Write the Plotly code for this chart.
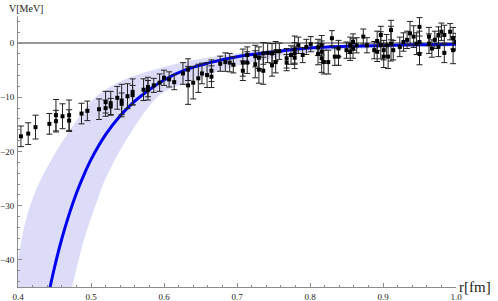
import plotly.graph_objects as go

# ---- data

# lattice points: r [fm], V [MeV], error [MeV]
r_data = [0.404, 0.414, 0.424, 0.443, 0.452, 0.452, 0.461, 0.470, 0.470, 0.487,
          0.495, 0.511, 0.520, 0.520, 0.527, 0.527, 0.536, 0.542, 0.542, 0.550,
          0.557, 0.557, 0.572, 0.578, 0.578, 0.586, 0.594, 0.600, 0.607, 0.614,
          0.626, 0.633, 0.633, 0.640, 0.647, 0.652, 0.659, 0.665, 0.665, 0.677,
          0.684, 0.690, 0.695, 0.708, 0.708, 0.714, 0.714, 0.725, 0.725, 0.730,
          0.730, 0.736, 0.736, 0.742, 0.748, 0.748, 0.753, 0.753, 0.758, 0.768,
          0.768, 0.774, 0.779, 0.779, 0.779, 0.784, 0.790, 0.795, 0.801, 0.811,
          0.811, 0.816, 0.816, 0.816, 0.819, 0.825, 0.830, 0.834, 0.839, 0.839,
          0.850, 0.855, 0.855, 0.859, 0.859, 0.864, 0.873, 0.878, 0.888, 0.892,
          0.892, 0.897, 0.897, 0.901, 0.901, 0.905, 0.907, 0.911, 0.911, 0.914,
          0.923, 0.928, 0.933, 0.937, 0.942, 0.946, 0.950, 0.950, 0.950, 0.963,
          0.963, 0.967, 0.971, 0.976, 0.976, 0.980, 0.984, 0.984, 0.992, 0.996,
          0.996, 1.000]
v_data = [-17.2, -16.7, -15.5, -14.9, -13.3, -14.4, -13.5, -13.3, -14.3, -13.0,
          -12.5, -12.2, -10.9, -12.0, -11.1, -11.7, -10.1, -10.6, -11.2, -9.8,
          -9.0, -9.6, -8.6, -8.7, -8.1, -7.8, -7.3, -6.4, -6.7, -7.2,
          -5.6, -4.9, -7.8, -7.3, -6.5, -5.6, -5.9, -5.1, -6.2, -3.8,
          -3.5, -3.6, -4.0, -3.6, -5.1, -2.2, -3.6, -2.4, -3.9, -2.7,
          -4.9, -1.9, -5.1, -1.8, -1.9, -4.1, -1.5, -3.5, -1.5, -2.8,
          -3.6, -2.2, -1.2, -1.9, -2.7, -0.4, -2.2, -0.7, -0.2, -2.0,
          -0.8, -0.4, -1.6, -2.8, -3.5, -3.5, 0.9, -2.5, -2.5, -1.0,
          -1.3, -0.4, -1.6, 0.2, -1.0, -0.4, 1.2, -0.4, -1.3, 0.4,
          -1.6, 1.5, -0.4, -1.3, -2.5, -0.4, -2.5, 2.4, -0.1, -1.3,
          -0.7, 0.2, 0.6, 1.8, 1.2, -0.1, 3.0, 0.2, -2.0, 1.2,
          -0.1, -1.0, 0.6, 1.5, -0.7, 2.1, 1.5, -1.8, 2.1, 0.9,
          -1.3, 0.2]
v_err = [1.9, 2.0, 2.2, 1.9, 2.9, 2.0, 2.3, 2.8, 2.0, 1.9,
         1.8, 1.9, 2.0, 1.5, 2.2, 1.5, 2.1, 3.0, 2.0, 2.3,
         2.4, 1.8, 2.0, 1.8, 1.8, 1.3, 1.6, 1.4, 1.4, 1.4,
         2.0, 2.0, 3.5, 3.0, 2.6, 1.9, 2.3, 2.0, 2.0, 1.4,
         1.7, 1.7, 1.5, 2.5, 1.8, 1.5, 2.0, 2.0, 2.5, 2.0,
         2.5, 2.0, 2.5, 1.8, 1.8, 2.0, 1.8, 2.0, 1.5, 1.8,
         1.5, 1.7, 2.5, 2.0, 2.0, 1.5, 1.4, 1.4, 1.4, 2.0,
         1.5, 1.8, 2.0, 2.6, 2.2, 2.2, 1.4, 1.6, 1.6, 1.5,
         1.5, 1.5, 1.6, 1.5, 1.8, 1.4, 1.4, 1.4, 1.6, 1.8,
         1.8, 1.6, 2.5, 1.8, 2.0, 2.0, 2.2, 1.8, 3.2, 1.8,
         1.8, 1.7, 1.6, 2.2, 2.0, 2.0, 1.7, 2.0, 2.0, 1.7,
         1.8, 1.6, 1.6, 1.5, 1.8, 1.6, 1.8, 1.8, 1.5, 2.0,
         2.5, 1.6]

# fitted potential (blue line)
r_fit = [0.444, 0.45, 0.46, 0.47, 0.48, 0.49, 0.50, 0.52, 0.54, 0.56, 0.58,
         0.60, 0.63, 0.66, 0.70, 0.75, 0.80, 0.85, 0.90, 0.95, 1.00]
v_fit = [-45.0, -41.4, -36.1, -31.6, -27.7, -24.4, -21.5, -16.9, -13.4, -10.7, -8.6,
         -6.8, -4.9, -3.7, -2.5, -1.6, -0.9, -0.6, -0.45, -0.3, -0.2]

# error band around the fit
r_band_up = [0.40, 0.41, 0.425, 0.45, 0.47, 0.50, 0.52, 0.55, 0.60, 0.65, 0.70, 0.80, 0.90, 1.00]
v_band_up = [-40.0, -33.0, -27.0, -20.5, -16.3, -10.8, -8.6, -6.5, -4.4, -2.9, -1.9, -0.8, -0.4, -0.15]
r_band_lo = [0.40, 0.44, 0.474, 0.49, 0.51, 0.52, 0.55, 0.595, 0.63, 0.66, 0.70, 0.75, 0.80, 0.90, 1.00]
v_band_lo = [-95.0, -62.0, -45.0, -36.5, -28.5, -25.0, -17.5, -9.5, -7.4, -5.9, -4.2, -2.8, -1.7, -0.8, -0.4]

axis_grey = "#8c8c8c"
serif = "Liberation Serif"

fig = go.Figure()

# band as closed polygon
fig.add_trace(go.Scatter(
    x=r_band_up + r_band_lo[::-1],
    y=v_band_up + v_band_lo[::-1],
    fill="toself", fillcolor="#dcdcf9", line=dict(width=0),
    mode="lines", line_shape="spline", hoverinfo="skip", showlegend=False))

fig.add_trace(go.Scatter(
    x=r_fit, y=v_fit, mode="lines", line_shape="spline",
    line=dict(color="#0000f0", width=3), showlegend=False))

fig.add_trace(go.Scatter(
    x=r_data, y=v_data, mode="markers",
    marker=dict(color="black", size=4, symbol="square"),
    error_y=dict(type="data", array=v_err, color="#222222", thickness=1, width=3),
    showlegend=False))

fig.update_layout(
    width=498, height=301,
    margin=dict(l=18, r=42, t=16, b=14),
    plot_bgcolor="white", paper_bgcolor="white",
    font=dict(family=serif, size=9, color="#222"),
    annotations=[
        dict(text="V[MeV]", xref="paper", yref="paper", x=0.018, y=1,
             xanchor="center", yanchor="bottom", showarrow=False,
             font=dict(family=serif, size=10, color="#222")),
        dict(text="r[fm]", xref="paper", yref="paper", x=1, y=0, xshift=1,
             xanchor="left", yanchor="middle", showarrow=False,
             font=dict(family=serif, size=15, color="#222")),
    ],
)

fig.update_xaxes(
    range=[0.4, 1.0], showgrid=False, zeroline=False, automargin=False,
    showline=True, linecolor=axis_grey, linewidth=1,
    tickvals=[0.4, 0.5, 0.6, 0.7, 0.8, 0.9, 1.0], ticktext=["0.4", "0.5", "0.6", "0.7", "0.8", "0.9", "1.0"],
    ticks="inside", ticklen=4, tickcolor=axis_grey,
    minor=dict(dtick=0.02, tick0=0.4, ticks="inside", ticklen=2, tickcolor=axis_grey),
    ticklabelstandoff=1,
)
fig.update_yaxes(
    range=[-45, 5], showgrid=False, automargin=False,
    zeroline=True, zerolinecolor="#999999", zerolinewidth=1.5,
    showline=True, linecolor=axis_grey, linewidth=1,
    tickvals=[-40, -30, -20, -10, 0],
    ticks="inside", ticklen=4, tickcolor=axis_grey,
    minor=dict(dtick=2, tick0=0, ticks="inside", ticklen=2, tickcolor=axis_grey),
    ticklabelstandoff=1,
)

# the page body has a default 8px margin; drop it so the figure sits at 0,0
fig.write_html("out.html", config={"displayModeBar": False},
               post_script="document.body.style.margin='0';")
